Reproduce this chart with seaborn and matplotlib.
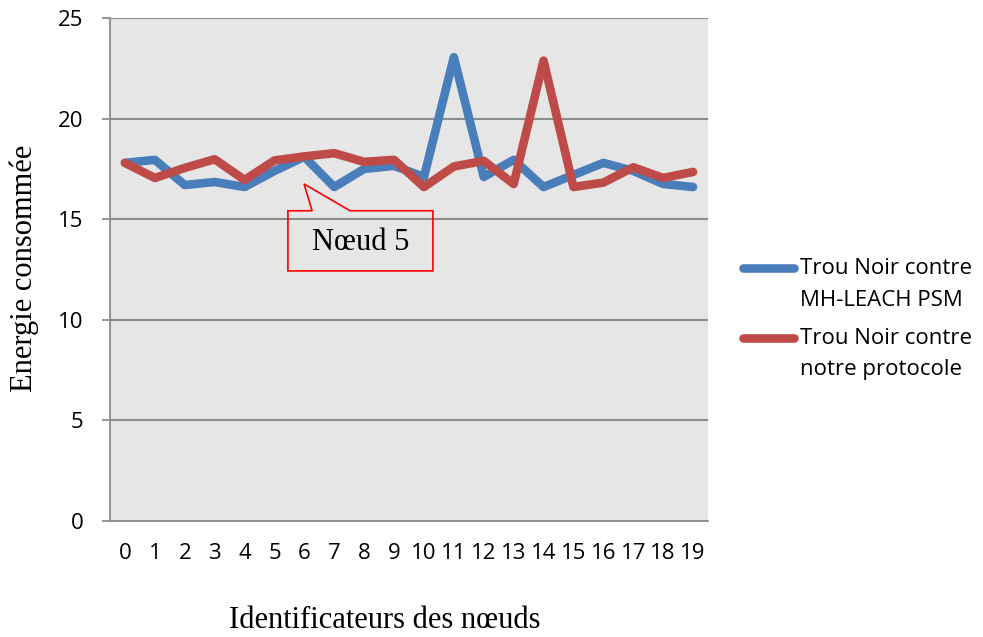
import matplotlib
matplotlib.use("Agg")
import matplotlib.pyplot as plt
import seaborn as sns
import pandas as pd
from matplotlib.patches import Polygon
from matplotlib.lines import Line2D

# Node identifiers and consumed energy per scenario
noeuds = list(range(20))
mh_leach_psm = [17.8, 17.95, 16.7, 16.85, 16.6, 17.4, 18.1, 16.6, 17.5, 17.65,
                17.1, 23.05, 17.1, 17.95, 16.6, 17.2, 17.8, 17.4, 16.75, 16.6]
notre_protocole = [17.8, 17.05, 17.55, 17.98, 16.95, 17.92, 18.12, 18.28, 17.85, 17.95,
                   16.6, 17.62, 17.9, 16.75, 22.88, 16.6, 16.82, 17.58, 17.05, 17.35]
series_labels = ["Trou Noir contre\nMH-LEACH PSM", "Trou Noir contre\nnotre protocole"]
colors = ["#4a7ebb", "#be4b48"]
y_ticks = [0, 5, 10, 15, 20, 25]

df = pd.DataFrame({
    "noeud": noeuds * 2,
    "energie": mh_leach_psm + notre_protocole,
    "serie": [series_labels[0]] * len(noeuds) + [series_labels[1]] * len(noeuds),
})

sns.set_theme(style="white")
plt.rcParams["font.family"] = ["Open Sans", "DejaVu Sans"]
plt.rcParams["text.color"] = "black"
plt.rcParams["xtick.color"] = "black"
plt.rcParams["ytick.color"] = "black"

fig = plt.figure(figsize=(9.83, 6.37), dpi=100)
ax = fig.add_axes([110 / 983, 1 - 521 / 637, 598 / 983, 503 / 637])
ax.set_facecolor("#e6e6e6")

sns.lineplot(data=df, x="noeud", y="energie", hue="serie", palette=colors,
             linewidth=6.2, ax=ax, legend=False, solid_joinstyle="round",
             solid_capstyle="round")
ax.set_xlabel("")
ax.set_ylabel("")

ax.set_xlim(-0.5, len(noeuds) - 0.5)
ax.set_ylim(0, 25)
ax.set_yticks(y_ticks)
ax.yaxis.grid(True, color="#8c8c8c", linewidth=1.5)
ax.set_axisbelow(True)

# category ticks between categories, labels at centres
ax.set_xticks([i - 0.5 for i in range(len(noeuds) + 1)])
ax.set_xticklabels([])
ax.set_xticks(noeuds, minor=True)
ax.set_xticklabels([str(n) for n in noeuds], minor=True, fontsize=16)
ax.set_yticklabels([str(v) for v in y_ticks], fontsize=16)
ax.tick_params(axis="x", which="minor", length=0, pad=16, labelcolor="black")
ax.tick_params(axis="x", which="major", length=6, width=1.3, color="#8c8c8c")
ax.tick_params(axis="y", length=6, width=1.3, color="#8c8c8c", pad=13,
               direction="out", left=True, labelcolor="black")

for side in ["top", "right"]:
    ax.spines[side].set_visible(False)
for side in ["left", "bottom"]:
    ax.spines[side].set_color("#8c8c8c")
    ax.spines[side].set_linewidth(1.3)

# axis titles
fig.text(385 / 983, 1 - 621 / 637, "Identificateurs des nœuds", family="Liberation Serif",
         fontsize=22, ha="center", va="center")
fig.text(24 / 983, 1 - 268 / 637, "Energie consommée", family="Liberation Serif",
         fontsize=22, ha="center", va="center", rotation=90)

# callout
callout = Polygon([(5.45, 15.42), (6.26, 15.42), (5.99, 16.75), (7.53, 15.42),
                   (10.3, 15.42), (10.3, 12.43), (5.45, 12.43)],
                  closed=True, facecolor="none", edgecolor="red", linewidth=1.2,
                  zorder=5)
ax.add_patch(callout)
ax.text(7.87, 13.85, "Nœud 5", family="Liberation Serif", fontsize=22,
        ha="center", va="center", zorder=6)

# legend: key line aligned with the first line of each wrapped label
W, H = 983, 637
for k, (label, color) in enumerate(zip(series_labels, colors)):
    y0 = 268 + 70 * k
    fig.add_artist(Line2D([743 / W, 794 / W], [1 - y0 / H, 1 - y0 / H], color=color,
                          linewidth=6.2, solid_capstyle="round",
                          transform=fig.transFigure))
    for j, line in enumerate(label.split("\n")):
        fig.text(800 / W, 1 - (y0 + 32 * j) / H, line, fontsize=16,
                 ha="left", va="center")

fig.savefig("out.png", dpi=100, facecolor="white")
